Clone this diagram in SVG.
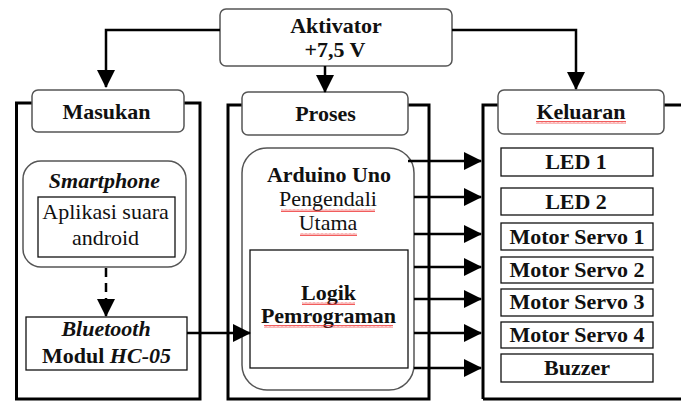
<svg xmlns="http://www.w3.org/2000/svg" width="681" height="401" viewBox="0 0 681 401">
<style>
text{font-family:"Liberation Serif","Times New Roman",serif;font-size:22px;fill:#111;text-anchor:middle}
.b{font-weight:bold}
.i{font-style:italic}
.frame{fill:none;stroke:#000;stroke-width:3}
.lbl{fill:#fff;stroke:#555;stroke-width:1.5}
.rnd{fill:#fff;stroke:#555;stroke-width:1.5}
.box{fill:#fff;stroke:#111;stroke-width:1.3}
.con{fill:none;stroke:#000;stroke-width:2.5}
.dash{stroke-dasharray:9 6}
.sq{fill:url(#wave)}
</style>
<defs>
<marker id="ah" markerUnits="userSpaceOnUse" markerWidth="18" markerHeight="18" refX="17" refY="9" orient="auto">
<path d="M0,0 L18,9 L0,18 z" fill="#000"/>
</marker>
<pattern id="wave" patternUnits="userSpaceOnUse" width="4" height="3">
<path d="M0,2.5 L1,0.5 L2,2.5 L3,0.5 L4,2.5" fill="none" stroke="#e33" stroke-width="0.8"/>
</pattern>
</defs>

<g id="masukan-frame"><rect class="frame" x="16.5" y="103" width="183.5" height="296"/></g>
<g id="proses-frame"><rect class="frame" x="228" y="105" width="201" height="294"/></g>
<g id="keluaran-frame"><path class="frame" d="M483,399 V105 H690 M483,399 H690"/></g>

<g id="aktivator">
<rect class="lbl" x="220" y="9" width="232" height="57" rx="6"/>
<text class="b" x="336" y="33">Aktivator</text>
<text class="b" x="335" y="57">+7,5 V</text>
</g>

<g id="masukan">
<rect class="lbl" x="32" y="90" width="152" height="42" rx="6"/>
<text class="b" x="106.5" y="118.5">Masukan</text>
</g>

<g id="proses">
<rect class="lbl" x="242" y="92" width="166" height="43" rx="6"/>
<text class="b" x="325.5" y="121">Proses</text>
</g>

<g id="keluaran">
<rect class="lbl" x="498" y="90" width="166" height="44" rx="6"/>
<text class="b" x="581" y="119">Keluaran</text>
<rect class="sq" x="536" y="121" width="90" height="3"/>
</g>

<g id="smartphone">
<rect class="rnd" x="23" y="161" width="163" height="106" rx="18"/>
<text class="b i" x="104.5" y="188">Smartphone</text>
</g>

<g id="aplikasi">
<rect class="box" x="38" y="197" width="137" height="60"/>
<text x="105.5" y="219">Aplikasi suara</text>
<text x="105.5" y="245">android</text>
</g>

<g id="bluetooth">
<rect class="box" x="26" y="317" width="161" height="53"/>
<text class="b i" x="106" y="336">Bluetooth</text>
<text class="b" x="106.5" y="363">Modul <tspan class="i">HC-05</tspan></text>
</g>

<g id="arduino">
<rect class="rnd" x="242" y="148" width="172" height="242" rx="25"/>
<text class="b" x="329" y="182">Arduino Uno</text>
<text x="328" y="206">Pengendali</text>
<text x="328" y="230">Utama</text>
<rect class="sq" x="281" y="209" width="94" height="3"/>
<rect class="sq" x="300" y="233" width="57" height="3"/>
</g>

<g id="logik">
<rect class="box" x="250" y="250" width="158" height="118"/>
<text class="b" x="328.5" y="300">Logik</text>
<text class="b" x="328.5" y="323">Pemrograman</text>
<rect class="sq" x="302" y="302" width="53" height="3"/>
<rect class="sq" x="264" y="325" width="129" height="3"/>
</g>

<g id="led1"><rect class="box" x="501" y="148" width="152" height="28"/><text class="b" x="576" y="169">LED 1</text></g>
<g id="led2"><rect class="box" x="501" y="188" width="152" height="27"/><text class="b" x="576" y="209">LED 2</text></g>
<g id="servo1"><rect class="box" x="501" y="223" width="152" height="27"/><text class="b" x="577" y="244">Motor Servo 1</text></g>
<g id="servo2"><rect class="box" x="501" y="257" width="152" height="26"/><text class="b" x="577" y="277">Motor Servo 2</text></g>
<g id="servo3"><rect class="box" x="501" y="289" width="152" height="27"/><text class="b" x="577" y="309">Motor Servo 3</text></g>
<g id="servo4"><rect class="box" x="501" y="322" width="152" height="26"/><text class="b" x="577" y="342">Motor Servo 4</text></g>
<g id="buzzer"><rect class="box" x="501" y="354" width="152" height="28"/><text class="b" x="577" y="375">Buzzer</text></g>

<g id="connectors">
<path class="con" marker-end="url(#ah)" d="M220,30 H106 V87"/>
<path class="con" marker-end="url(#ah)" d="M325,66 V92"/>
<path class="con" marker-end="url(#ah)" d="M452,30 H576 V89"/>
<path class="con dash" marker-end="url(#ah)" d="M106,268 V316"/>
<path class="con" marker-end="url(#ah)" d="M187,333 H250"/>
<path class="con" marker-end="url(#ah)" d="M408,161 H481"/>
<path class="con" marker-end="url(#ah)" d="M414,197 H481"/>
<path class="con" marker-end="url(#ah)" d="M414,234 H481"/>
<path class="con" marker-end="url(#ah)" d="M414,267 H481"/>
<path class="con" marker-end="url(#ah)" d="M414,299 H481"/>
<path class="con" marker-end="url(#ah)" d="M414,333 H481"/>
<path class="con" marker-end="url(#ah)" d="M414,368 H481"/>
</g>
</svg>
